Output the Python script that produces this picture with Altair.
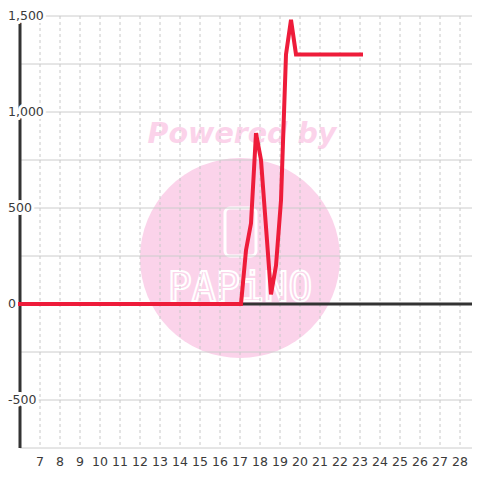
import altair as alt
import pandas as pd

# ---- data ----
x_vals = [6, 17.05, 17.3, 17.55, 17.8, 18.05, 18.3, 18.55, 18.8, 19.05, 19.3, 19.55, 19.8, 23.05]
y_vals = [0, 0, 280, 420, 890, 750, 400, 50, 200, 540, 1300, 1480, 1300, 1300]

y_tick_values = [-500, 0, 500, 1000, 1500]
y_tick_labels = ["-500", "0", "500", "1,000", "1,500"]
y_grid_values = [-750, -500, -250, 0, 250, 500, 750, 1000, 1250, 1500]
x_tick_values = list(range(7, 29))

W, H = 452, 432
FONT = "DejaVu Sans"
TEXT_COLOR = "#3a3a3a"
PINK = "#fbd3ea"

xscale = alt.Scale(domain=[6, 28.6], nice=False, zero=False)
yscale = alt.Scale(domain=[-750, 1500], nice=False, zero=False)

line_df = pd.DataFrame({"x": x_vals, "y": y_vals})
ylab_df = pd.DataFrame({"v": y_tick_values, "lab": y_tick_labels})
ygrid_df = pd.DataFrame({"v": y_grid_values})
xtick_df = pd.DataFrame({"t": x_tick_values})
one = pd.DataFrame({"z": [0]})

# watermark (decoration)
wm_circle = alt.Chart(one).mark_point(
    shape="circle", filled=True, size=40000, color=PINK, opacity=1
).encode(x=alt.value(220), y=alt.value(242))
wm_text = alt.Chart(one).mark_text(
    text="Powered by", font=FONT, fontWeight="bold", fontStyle="italic",
    fontSize=28.5, color=PINK, align="center", baseline="middle"
).encode(x=alt.value(222), y=alt.value(118))
wm_icon = alt.Chart(one).mark_rect(
    fillOpacity=0, stroke="white", strokeWidth=3, cornerRadius=5
).encode(x=alt.value(205), x2=alt.value(236), y=alt.value(192), y2=alt.value(240))
wm_logo = alt.Chart(one).mark_text(
    text="PAPiNO", font="DejaVu Sans Mono", fontSize=40, fill=PINK,
    stroke="white", strokeWidth=2, align="center", baseline="middle"
).encode(x=alt.value(220), y=alt.value(273))

# grid lines
grid_h = alt.Chart(ygrid_df).mark_rule(color="#cccccc", strokeWidth=1).encode(
    y=alt.Y("v:Q", scale=yscale, axis=None), x=alt.value(0), x2=alt.value(W)
)
grid_v = alt.Chart(xtick_df).mark_rule(color="#c8c8c8", strokeWidth=1, strokeDash=[3, 3]).encode(
    x=alt.X("t:Q", scale=xscale, axis=None), y=alt.value(0), y2=alt.value(H)
)

# zero line and left axis line
zero_line = alt.Chart(one).mark_rule(color="#333333", strokeWidth=3).encode(
    y=alt.Y("z:Q", scale=yscale, axis=None), x=alt.value(0), x2=alt.value(W)
)
axis_line = alt.Chart(one).mark_rule(color="#333333", strokeWidth=3).encode(
    x=alt.value(0), y=alt.value(0), y2=alt.value(H)
)

# y labels with halo masks
ylab_halo = alt.Chart(ylab_df).mark_text(
    align="left", baseline="middle", font=FONT, fontSize=12.5,
    color="white", stroke="white", strokeWidth=6
).encode(x=alt.value(-12), y=alt.Y("v:Q", scale=yscale, axis=None), text="lab:N")
ylab = alt.Chart(ylab_df).mark_text(
    align="left", baseline="middle", font=FONT, fontSize=12.5, color=TEXT_COLOR
).encode(x=alt.value(-12), y=alt.Y("v:Q", scale=yscale, axis=None), text="lab:N")

# x labels
xlab = alt.Chart(xtick_df).mark_text(
    align="center", baseline="alphabetic", font=FONT, fontSize=12.5, color=TEXT_COLOR
).encode(x=alt.X("t:Q", scale=xscale, axis=None), y=alt.value(H + 18), text=alt.Text("t:Q", format="d"))

# data line
line = alt.Chart(line_df).mark_line(
    color="#ee1c3a", strokeWidth=4, strokeCap="square", strokeJoin="miter"
).encode(
    x=alt.X("x:Q", scale=xscale, axis=None),
    y=alt.Y("y:Q", scale=yscale, axis=None),
)

chart = alt.layer(
    wm_circle, wm_text, wm_icon, wm_logo,
    grid_h, grid_v, zero_line, axis_line,
    ylab_halo, ylab, xlab, line
).properties(
    width=W, height=H,
    autosize=alt.AutoSizeParams(type="none"),
    padding={"left": 12, "top": 8, "right": 0, "bottom": 24},
    background="white",
).configure_view(stroke=None)

chart.save("out.html", embed_options={"renderer": "svg", "actions": False})
